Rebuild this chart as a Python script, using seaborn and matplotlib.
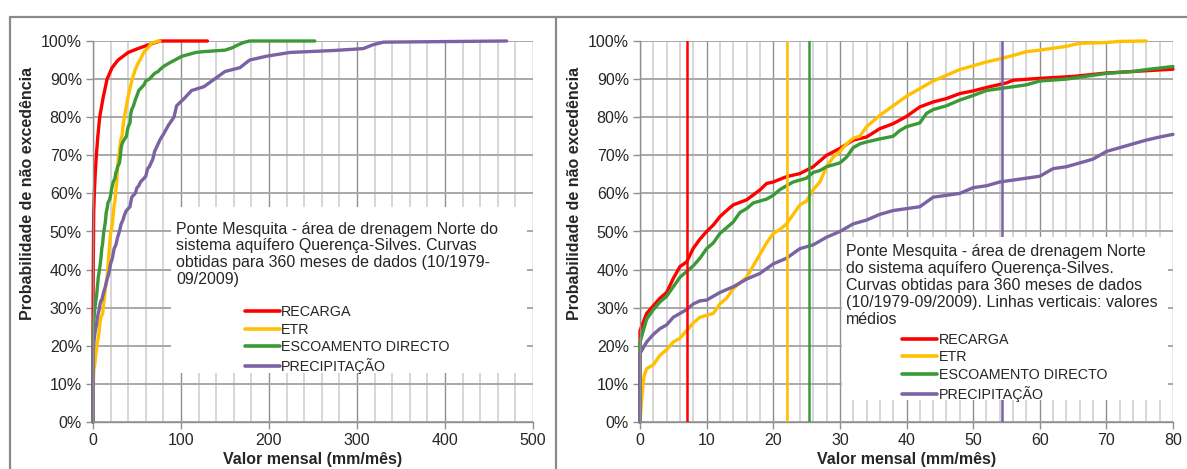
import numpy as np
import pandas as pd
import matplotlib
matplotlib.use("Agg")
import matplotlib.pyplot as plt
import seaborn as sns
from matplotlib.lines import Line2D
from matplotlib.patches import Rectangle
from matplotlib.ticker import MultipleLocator, FuncFormatter

# curvas de probabilidade de nao excedencia (x em mm/mes, p em %)
RECARGA_ESQ_X = [0, 0, 0.3, 0.8, 1.5, 2.5, 3.8, 5.5, 7.6, 11.4, 16, 21.7, 28.5, 40, 51, 63, 76, 130]
RECARGA_ESQ_P = [0, 25, 40, 55, 60, 65, 70, 75, 80, 85, 90, 93, 95, 97, 98, 99, 100, 100]

RECARGA_X = [0, 0, 1, 2, 3, 4, 5, 6, 7, 8, 9, 10, 11, 12, 13, 14, 16, 18, 19, 20, 22, 24, 26, 28, 30,
             32, 34, 36, 38, 40, 42, 44, 46, 48, 50, 52, 54, 55, 56, 60, 65, 70, 75, 80]
RECARGA_P = [0, 24, 28.5, 30.5, 32.5, 34, 37.7, 40.8, 42, 45.6, 48, 50, 51.7, 53.9, 55.5, 57, 58.3, 60.9,
             62.6, 63, 64.4, 65.2, 67, 70, 71.8, 74, 74.8, 77, 78.3, 80.2, 82.7, 84, 84.9, 86.2, 86.9, 87.8,
             88.6, 89, 89.7, 90.2, 90.7, 91.6, 92.1, 92.6]

ETR_X = [0, 0.3, 0.6, 1, 2, 3, 4, 5, 6, 7, 8, 9, 10, 11, 12, 13, 14, 15, 16, 17, 18, 19, 20, 21, 22, 23,
         24, 25, 26, 27, 28, 29, 30, 31, 32, 33, 34, 36, 38, 40, 42, 44, 46, 48, 50, 52, 54, 56, 58, 60,
         64, 66, 70, 72, 76]
ETR_P = [0, 7, 12, 14, 15, 17.5, 19, 21, 22, 24, 26, 27.5, 28, 28.5, 31, 32.5, 35, 36.5, 38, 41, 44, 47,
         49.5, 50.5, 52, 54.5, 57, 58, 61, 63, 67, 69.5, 71, 73, 74.5, 75, 77.5, 80.5, 83, 85.5, 87.5, 89.5,
         91, 92.5, 93.5, 94.5, 95.3, 96.2, 97.2, 97.6, 98.6, 99.4, 99.6, 99.9, 100]

ESC_X = [0, 0, 1, 2, 3, 4, 5, 6, 7, 8, 9, 10, 11, 12, 13, 14, 15, 16, 17, 18, 19, 20, 21, 22, 23, 24, 25,
         26, 27, 28, 30, 31, 32, 33, 34, 36, 38, 39, 40, 42, 43, 44, 46, 48, 50, 52, 54, 56, 58, 60, 64,
         66, 70, 74, 76, 80, 85, 93, 101, 117, 125, 150, 158, 165, 171, 178, 252]
ESC_P = [0, 21, 27, 29.5, 31.5, 33, 35.5, 38, 39.5, 41, 43, 45.5, 47, 49.5, 51, 52.5, 55, 56, 57.5, 58,
         58.5, 59.5, 61, 62, 63, 63.5, 64, 65.5, 66, 67, 68, 69.5, 72, 73, 73.5, 74.3, 75, 76.5, 77.5, 78.5,
         81, 82, 83, 84.5, 85.7, 87, 87.5, 88, 88.5, 89.5, 90, 90.5, 91.5, 92, 92.5, 93.3, 94, 95, 96, 97,
         97.2, 97.6, 98.2, 99, 99.6, 100, 100]

PREC_X = [0, 0, 0.5, 1, 2, 3, 4, 5, 6, 7, 8, 9, 10, 11, 12, 14, 16, 18, 20, 22, 24, 26, 28, 30, 32, 34,
          36, 38, 40, 42, 44, 46, 48, 50, 52, 54, 56, 58, 60, 62, 64, 66, 68, 70, 72, 74, 76, 78, 80, 86,
          92, 95, 104, 112, 126, 138, 150, 167, 178, 197, 224, 273, 307, 318, 330, 470]
PREC_P = [0, 18, 19.5, 21, 23, 24.5, 25.5, 27.5, 28.5, 29.5, 31, 31.8, 32, 33, 34, 35.5, 37.5, 39, 41.5,
          43, 45.5, 46.5, 48.5, 50, 52, 53, 54.5, 55.5, 56, 56.5, 59, 59.5, 60, 61.5, 62, 63, 63.5, 64,
          64.5, 66.5, 67, 68, 69, 71, 72, 73, 74, 74.8, 75.5, 78, 80, 83, 85, 87, 88, 90, 92, 93, 95, 96,
          97, 97.5, 98, 99, 99.7, 100]

SERIES = ["RECARGA", "ETR", "ESCOAMENTO DIRECTO", "PRECIPITAÇÃO"]
CORES = ["#FF0000", "#FFC000", "#3A9A35", "#7B62A3"]
MEDIAS = [7.0, 22.0, 25.3, 54.4]

TEXTO_ESQ = ("Ponte Mesquita - área de drenagem Norte do\nsistema aquífero Querença-Silves. Curvas\n"
             "obtidas para 360 meses de dados (10/1979-\n09/2009)")
TEXTO_DIR = ("Ponte Mesquita - área de drenagem Norte\ndo sistema aquífero Querença-Silves.\n"
             "Curvas obtidas para 360 meses de dados\n(10/1979-09/2009). Linhas verticais: valores\nmédios")


def tabela(pares):
    partes = []
    for nome, xs, ps in pares:
        partes.append(pd.DataFrame({"x": xs, "p": ps, "serie": nome}))
    return pd.concat(partes, ignore_index=True)


df_esq = tabela([("RECARGA", RECARGA_ESQ_X, RECARGA_ESQ_P), ("ETR", ETR_X, ETR_P),
                 ("ESCOAMENTO DIRECTO", ESC_X, ESC_P), ("PRECIPITAÇÃO", PREC_X, PREC_P)])
df_dir = tabela([("RECARGA", RECARGA_X, RECARGA_P), ("ETR", ETR_X, ETR_P),
                 ("ESCOAMENTO DIRECTO", ESC_X, ESC_P), ("PRECIPITAÇÃO", PREC_X, PREC_P)])
df_dir = df_dir[df_dir["x"] <= 80]

sns.set_style("white")
plt.rcParams["font.family"] = ["Liberation Sans", "DejaVu Sans"]

paleta = dict(zip(SERIES, CORES))

fig = plt.figure(figsize=(11.87, 4.69), dpi=100)
W, H = 1187, 469
ax1 = fig.add_axes([93 / W, 1 - 422 / H, 440 / W, 381 / H])
ax2 = fig.add_axes([640 / W, 1 - 422 / H, 533 / W, 381 / H])


def formatar(ax, xmax, major, minor):
    ax.set_xlim(0, xmax)
    ax.set_ylim(0, 100)
    ax.xaxis.set_major_locator(MultipleLocator(major))
    ax.xaxis.set_minor_locator(MultipleLocator(minor))
    ax.yaxis.set_major_locator(MultipleLocator(10))
    ax.yaxis.set_major_formatter(FuncFormatter(lambda v, pos: "%d%%" % v))
    ax.grid(which="minor", axis="x", color="#d6d6d6", lw=1.4)
    ax.grid(which="major", axis="x", color="#8f8f8f", lw=1.0)
    ax.grid(which="major", axis="y", color="#a8a8a8", lw=1.4)
    ax.set_axisbelow(True)
    for s in ["top", "right"]:
        ax.spines[s].set_visible(False)
    for s in ["left", "bottom"]:
        ax.spines[s].set_color("#8f8f8f")
        ax.spines[s].set_linewidth(1.0)
    ax.tick_params(which="major", length=5, width=1, color="#8f8f8f", labelsize=11.5, pad=3,
                   direction="out", bottom=True, left=True)
    ax.tick_params(which="minor", length=0)
    ax.set_xlabel("Valor mensal (mm/mês)", fontsize=11.5, fontweight="bold", labelpad=3)
    ax.set_ylabel("Probabilidade de não excedência", fontsize=11.5, fontweight="bold", labelpad=4)
    ax.yaxis.label.set_y(0.60)


for ax, df in [(ax1, df_esq), (ax2, df_dir)]:
    sns.lineplot(data=df, x="x", y="p", hue="serie", palette=paleta, sort=False, estimator=None,
                 lw=2.4, legend=False, ax=ax)
    for ln in ax.lines:
        ln.set_clip_on(False)
        ln.set_solid_joinstyle("round")

for m, c in zip(MEDIAS, CORES):
    ax2.axvline(m, color=c, lw=1.8, zorder=3)

formatar(ax1, 500, 100, 20)
formatar(ax2, 80, 10, 2)

handles = [Line2D([], [], color=c, lw=2.6) for c in CORES]

# caixa de texto + legenda (esquerda)
ax1.add_patch(Rectangle((0.177, 0.129), 0.809, 0.435, transform=ax1.transAxes, facecolor="white",
                        edgecolor="none", zorder=5, clip_on=False))
ax1.text(0.189, 0.526, TEXTO_ESQ, transform=ax1.transAxes, ha="left", va="top", fontsize=11.5,
         linespacing=1.15, zorder=6)
leg1 = ax1.legend(handles, SERIES, loc="upper left", bbox_to_anchor=(0.345, 0.307), frameon=False,
                  fontsize=10.3, handlelength=2.45, handletextpad=0.1, labelspacing=0.25, borderpad=0,
                  borderaxespad=0)
leg1.set_zorder(7)

# caixa de texto + legenda (direita)
ax2.add_patch(Rectangle((0.379, 0.058), 0.612, 0.428, transform=ax2.transAxes, facecolor="white",
                        edgecolor="none", zorder=5, clip_on=False))
ax2.text(0.386, 0.466, TEXTO_DIR, transform=ax2.transAxes, ha="left", va="top", fontsize=11.5,
         linespacing=1.15, zorder=6)
leg2 = ax2.legend(handles, SERIES, loc="upper left", bbox_to_anchor=(0.492, 0.234), frameon=False,
                  fontsize=10.3, handlelength=2.45, handletextpad=0.1, labelspacing=0.25, borderpad=0,
                  borderaxespad=0)
leg2.set_zorder(7)

# molduras dos graficos
moldura = dict(color="#8a8a8a", lw=1.6, transform=fig.transFigure)
fig.add_artist(Line2D([10 / W, 1], [1 - 17 / H, 1 - 17 / H], **moldura))
fig.add_artist(Line2D([10 / W, 10 / W], [0, 1 - 17 / H], **moldura))
fig.add_artist(Line2D([556 / W, 556 / W], [0, 1 - 17 / H], **moldura))

fig.savefig("out.png", dpi=100)
